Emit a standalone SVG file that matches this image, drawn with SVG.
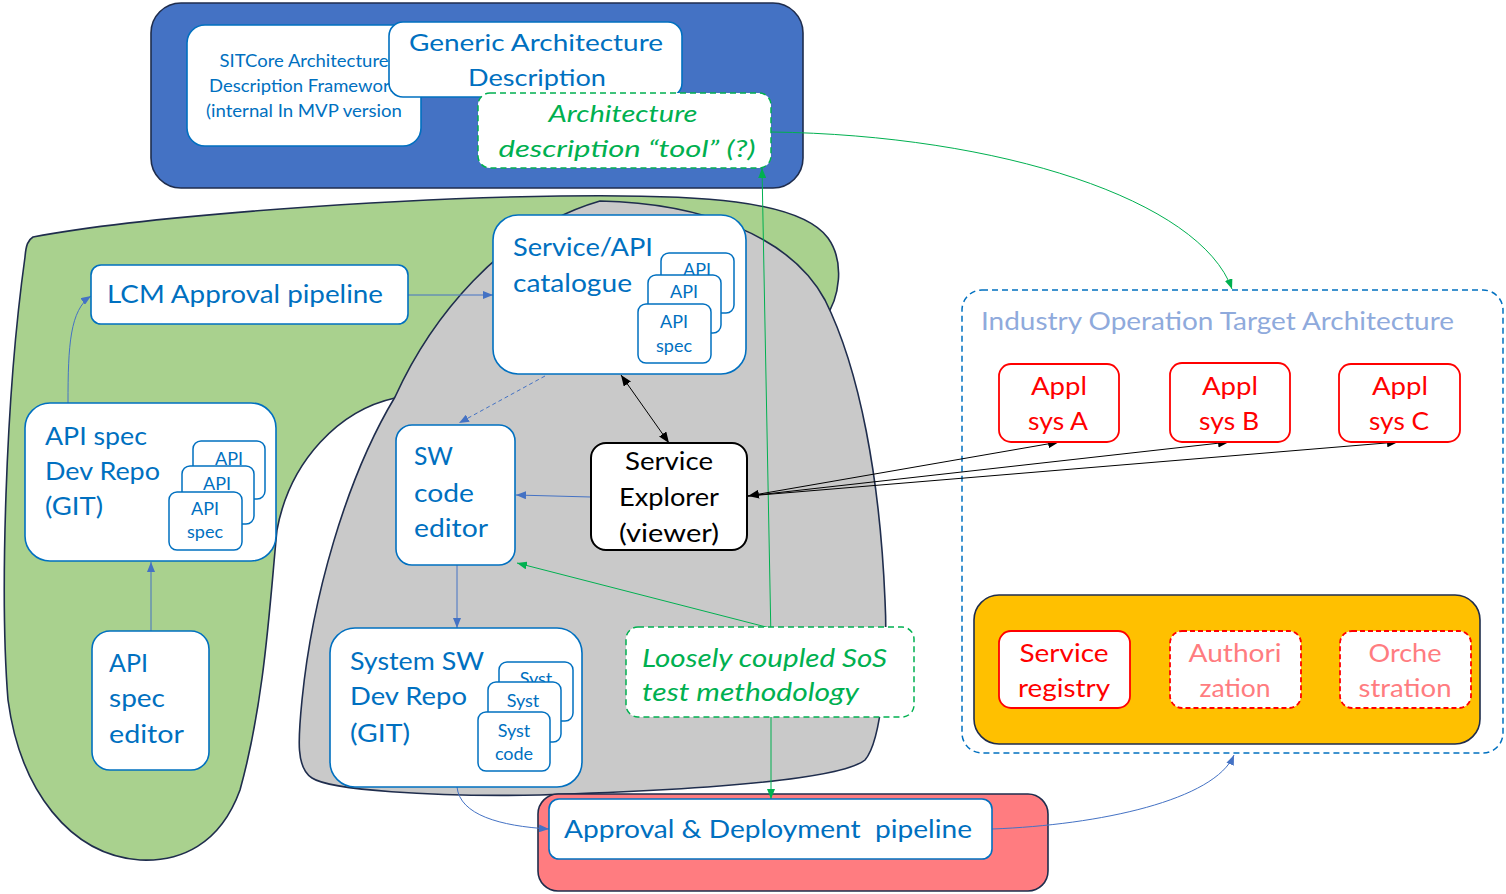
<svg xmlns="http://www.w3.org/2000/svg" width="1506" height="894" viewBox="0 0 1506 894">
<style>
.t{font-family:Lato,"Liberation Sans",sans-serif;fill:#0070C0}
.m{text-anchor:middle}
.big{font-size:25px}
.sm{font-size:18px}
.node{fill:#fff;stroke:#0070C0;stroke-width:1.6}
.card{fill:#fff;stroke:#0070C0;stroke-width:1.5}
.cont{stroke:#1F2D4D;stroke-width:1.6}
.gdash{fill:#fff;stroke:#00B050;stroke-width:1.5;stroke-dasharray:6 4}
.gt{fill:#00B050;font-style:italic}
.red{fill:#fff;stroke:#FF0000;stroke-width:1.8}
.redd{fill:#fff;stroke:#FF0000;stroke-width:1.8;stroke-dasharray:5 3}
.rt{fill:#FF0000}
.pt{fill:#FF7C80}
.cb{fill:none;stroke:#4472C4;stroke-width:1}
.ck{fill:none;stroke:#000;stroke-width:1}
.cg{fill:none;stroke:#00B050;stroke-width:1}
</style>
<defs>
<marker id="ab" viewBox="0 0 10 8" refX="10" refY="4" markerWidth="10" markerHeight="8" markerUnits="userSpaceOnUse" orient="auto-start-reverse"><path d="M0,0L10,4L0,8z" fill="#4472C4"/></marker>
<marker id="ak" viewBox="0 0 10 8" refX="10" refY="4" markerWidth="11" markerHeight="9" markerUnits="userSpaceOnUse" orient="auto-start-reverse"><path d="M0,0L10,4L0,8z" fill="#000"/></marker>
<marker id="ag" viewBox="0 0 10 8" refX="10" refY="4" markerWidth="10" markerHeight="8" markerUnits="userSpaceOnUse" orient="auto-start-reverse"><path d="M0,0L10,4L0,8z" fill="#00B050"/></marker>
</defs>

<g id="containers">
<rect id="blue-container" class="cont" x="151" y="3" width="652" height="185" rx="30" fill="#4472C4"/>
<path id="green-blob" class="cont" fill="#A9D18E" d="M33,237 C150,215 400,198 560,196 C700,194 800,200 828,238 C845,262 840,298 824,320 L800,330 L600,300 L410,395 L395,398 C340,410 290,460 277,530 C270,600 265,700 240,790 C220,845 180,862 140,860 C70,855 20,790 8,700 C0,600 5,400 25,257 C26,245 28,240 33,237 Z"/>
<path id="grey-blob" class="cont" fill="#C9C9C9" d="M600,201 C700,203 790,235 825,300 C860,370 880,480 885,600 C888,660 882,740 865,760 C840,780 700,790 540,795 C430,797 330,790 312,778 C296,768 298,740 302,700 C312,600 345,480 395,397 C430,320 500,230 600,201 Z"/>
<rect id="industry-container" x="962" y="290" width="541" height="463" rx="20" fill="none" stroke="#0070C0" stroke-width="1.5" stroke-dasharray="6 4"/>
<rect id="orange-container" class="cont" x="974" y="595" width="506" height="149" rx="25" fill="#FFC000"/>
<rect id="pink-container" class="cont" x="538" y="794" width="510" height="97" rx="20" fill="#FF7C80"/>
</g>

<g id="connectors">
<line class="cb" x1="408" y1="295" x2="493" y2="295" marker-end="url(#ab)"/>
<path class="cb" d="M68,403 C68,345 70,310 91,296" marker-end="url(#ab)"/>
<line class="cb" x1="151" y1="631" x2="151" y2="562" marker-end="url(#ab)"/>
<line class="cb" x1="545" y1="376" x2="459" y2="423" stroke-dasharray="4 3" marker-end="url(#ab)"/>
<line class="cb" x1="591" y1="497" x2="516" y2="495" marker-end="url(#ab)"/>
<line class="ck" x1="621" y1="375" x2="669" y2="443" marker-start="url(#ak)" marker-end="url(#ak)"/>
<line class="cb" x1="457" y1="565" x2="457" y2="628" marker-end="url(#ab)"/>
<line class="cg" x1="770" y1="628" x2="517" y2="563" marker-end="url(#ag)"/>
<line class="cg" x1="771" y1="640" x2="762" y2="168" marker-end="url(#ag)"/>
<line class="cg" x1="771" y1="700" x2="771" y2="799" marker-end="url(#ag)"/>
<path class="cg" d="M771,132 C1000,135 1200,200 1232,289" marker-end="url(#ag)"/>
<line class="ck" x1="748" y1="496" x2="1059" y2="442" marker-start="url(#ak)" marker-end="url(#ak)"/>
<line class="ck" x1="748" y1="496" x2="1229" y2="442" marker-end="url(#ak)"/>
<line class="ck" x1="748" y1="496" x2="1398" y2="442" marker-end="url(#ak)"/>
<path class="cb" d="M992,829 C1100,825 1215,800 1234,755" marker-end="url(#ab)"/>
<path class="cb" d="M457,787 C460,815 500,826 549,829" marker-end="url(#ab)"/>
</g>

<g id="sitcore">
<rect class="node" x="187" y="25" width="234" height="121" rx="18"/>
<text class="t m" font-size="16.5" x="304" y="67" textLength="169" lengthAdjust="spacingAndGlyphs">SITCore Architecture</text>
<text class="t m" font-size="16.5" x="304" y="92" textLength="190" lengthAdjust="spacingAndGlyphs">Description Framework</text>
<text class="t m" font-size="16.5" x="304" y="117" textLength="196" lengthAdjust="spacingAndGlyphs">(internal In MVP version</text>
</g>
<g id="generic">
<rect class="node" x="389" y="22" width="293" height="75" rx="14"/>
<text class="t m" font-size="24" x="536" y="51" textLength="254" lengthAdjust="spacingAndGlyphs">Generic Architecture</text>
<text class="t m" font-size="24" x="537" y="86" textLength="138" lengthAdjust="spacingAndGlyphs">Description</text>
</g>
<g id="tool">
<rect class="gdash" x="478" y="93" width="293" height="75" rx="12"/>
<text class="t gt m" font-size="24" x="623" y="122" textLength="149" lengthAdjust="spacingAndGlyphs">Architecture</text>
<text class="t gt m" font-size="24" x="627" y="157" textLength="257" lengthAdjust="spacingAndGlyphs">description “tool” (?)</text>
</g>

<g id="catalogue">
<rect class="node" x="493" y="215" width="253" height="159" rx="25"/>
<text class="t big" x="513" y="256" textLength="140" lengthAdjust="spacingAndGlyphs">Service/API</text>
<text class="t big" x="513" y="292" textLength="119" lengthAdjust="spacingAndGlyphs">catalogue</text>
<rect class="card" x="661" y="253" width="73" height="60" rx="8"/>
<text class="t sm m" x="697" y="276">API</text>
<rect class="card" x="648" y="275" width="73" height="58" rx="8"/>
<text class="t sm m" x="684" y="298">API</text>
<rect class="card" x="638" y="304" width="73" height="59" rx="8"/>
<text class="t sm m" x="674" y="328">API</text>
<text class="t sm m" x="674" y="352">spec</text>
</g>

<g id="lcm">
<rect class="node" x="91" y="265" width="317" height="59" rx="10"/>
<text class="t big" x="107" y="303" textLength="276" lengthAdjust="spacingAndGlyphs">LCM Approval pipeline</text>
</g>

<g id="api-repo">
<rect class="node" x="25" y="403" width="251" height="158" rx="25"/>
<text class="t big" x="45" y="445" textLength="102" lengthAdjust="spacingAndGlyphs">API spec</text>
<text class="t big" x="45" y="480" textLength="115" lengthAdjust="spacingAndGlyphs">Dev Repo</text>
<text class="t big" x="45" y="515" textLength="58" lengthAdjust="spacingAndGlyphs">(GIT)</text>
<rect class="card" x="193" y="441" width="72" height="58" rx="8"/>
<text class="t sm m" x="229" y="465">API</text>
<rect class="card" x="182" y="466" width="72" height="58" rx="8"/>
<text class="t sm m" x="217" y="490">API</text>
<rect class="card" x="169" y="492" width="73" height="58" rx="8"/>
<text class="t sm m" x="205" y="515">API</text>
<text class="t sm m" x="205" y="538">spec</text>
</g>

<g id="api-editor">
<rect class="node" x="92" y="631" width="117" height="139" rx="18"/>
<text class="t big" x="109" y="672" textLength="39" lengthAdjust="spacingAndGlyphs">API</text>
<text class="t big" x="109" y="707" textLength="56" lengthAdjust="spacingAndGlyphs">spec</text>
<text class="t big" x="109" y="743" textLength="75" lengthAdjust="spacingAndGlyphs">editor</text>
</g>

<g id="sw-editor">
<rect class="node" x="396" y="425" width="119" height="140" rx="16"/>
<text class="t big" x="414" y="465" textLength="39" lengthAdjust="spacingAndGlyphs">SW</text>
<text class="t big" x="414" y="502" textLength="60" lengthAdjust="spacingAndGlyphs">code</text>
<text class="t big" x="414" y="537" textLength="74" lengthAdjust="spacingAndGlyphs">editor</text>
</g>

<g id="explorer">
<rect x="591" y="443" width="156" height="107" rx="15" fill="#fff" stroke="#000" stroke-width="2"/>
<text class="t big m" style="fill:#000" x="669" y="470" textLength="88" lengthAdjust="spacingAndGlyphs">Service</text>
<text class="t big m" style="fill:#000" x="669" y="506" textLength="100" lengthAdjust="spacingAndGlyphs">Explorer</text>
<text class="t big m" style="fill:#000" x="669" y="542" textLength="100" lengthAdjust="spacingAndGlyphs">(viewer)</text>
</g>

<g id="sos-test">
<rect class="gdash" x="626" y="627" width="288" height="90" rx="12"/>
<text class="t gt big" x="642" y="667" textLength="245" lengthAdjust="spacingAndGlyphs">Loosely coupled SoS</text>
<text class="t gt big" x="642" y="701" textLength="217" lengthAdjust="spacingAndGlyphs">test methodology</text>
</g>

<g id="system-repo">
<rect class="node" x="330" y="628" width="252" height="159" rx="25"/>
<text class="t big" x="350" y="670" textLength="134" lengthAdjust="spacingAndGlyphs">System SW</text>
<text class="t big" x="350" y="705" textLength="117" lengthAdjust="spacingAndGlyphs">Dev Repo</text>
<text class="t big" x="350" y="742" textLength="60" lengthAdjust="spacingAndGlyphs">(GIT)</text>
<rect class="card" x="499" y="662" width="74" height="59" rx="8"/>
<text class="t sm m" x="536" y="685">Syst</text>
<rect class="card" x="488" y="682" width="73" height="60" rx="8"/>
<text class="t sm m" x="523" y="707">Syst</text>
<rect class="card" x="478" y="712" width="72" height="59" rx="8"/>
<text class="t sm m" x="514" y="737">Syst</text>
<text class="t sm m" x="514" y="760">code</text>
</g>

<g id="approval-deploy">
<rect class="node" x="549" y="799" width="443" height="60" rx="10"/>
<text class="t big" x="564" y="838" textLength="408" lengthAdjust="spacingAndGlyphs" style="white-space:pre">Approval &amp; Deployment&#160; pipeline</text>
</g>

<g id="industry-title">
<text class="t big" style="fill:#8FAADC" x="981" y="330" textLength="473" lengthAdjust="spacingAndGlyphs">Industry Operation Target Architecture</text>
</g>

<g id="appl-a">
<rect class="red" x="999" y="364" width="120" height="78" rx="12"/>
<text class="t big m rt" x="1059" y="395" textLength="56" lengthAdjust="spacingAndGlyphs">Appl</text>
<text class="t big m rt" x="1058" y="430" textLength="60" lengthAdjust="spacingAndGlyphs">sys A</text>
</g>
<g id="appl-b">
<rect class="red" x="1170" y="363" width="120" height="79" rx="12"/>
<text class="t big m rt" x="1230" y="395" textLength="56" lengthAdjust="spacingAndGlyphs">Appl</text>
<text class="t big m rt" x="1229" y="430" textLength="60" lengthAdjust="spacingAndGlyphs">sys B</text>
</g>
<g id="appl-c">
<rect class="red" x="1339" y="364" width="121" height="78" rx="12"/>
<text class="t big m rt" x="1400" y="395" textLength="56" lengthAdjust="spacingAndGlyphs">Appl</text>
<text class="t big m rt" x="1399" y="430" textLength="60" lengthAdjust="spacingAndGlyphs">sys C</text>
</g>

<g id="service-registry">
<rect class="red" x="999" y="631" width="131" height="77" rx="12"/>
<text class="t big m rt" x="1064" y="662" textLength="89" lengthAdjust="spacingAndGlyphs">Service</text>
<text class="t big m rt" x="1064" y="697" textLength="92" lengthAdjust="spacingAndGlyphs">registry</text>
</g>
<g id="authorization">
<rect class="redd" x="1170" y="631" width="131" height="77" rx="12"/>
<text class="t big m pt" x="1235" y="662" textLength="93" lengthAdjust="spacingAndGlyphs">Authori</text>
<text class="t big m pt" x="1235" y="697" textLength="71" lengthAdjust="spacingAndGlyphs">zation</text>
</g>
<g id="orchestration">
<rect class="redd" x="1340" y="631" width="131" height="77" rx="12"/>
<text class="t big m pt" x="1405" y="662" textLength="73" lengthAdjust="spacingAndGlyphs">Orche</text>
<text class="t big m pt" x="1405" y="697" textLength="93" lengthAdjust="spacingAndGlyphs">stration</text>
</g>
</svg>
